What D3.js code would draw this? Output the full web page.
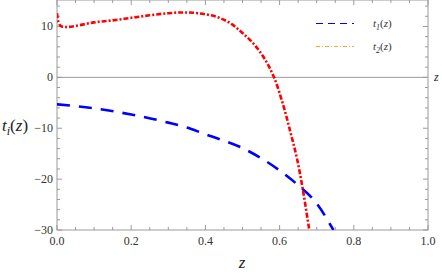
<!DOCTYPE html>
<html>
<head>
<meta charset="utf-8">
<script src="https://cdn.jsdelivr.net/npm/d3@7"></script>
<style>
  body { margin: 0; background: #fff; }
</style>
</head>
<body>
<div id="chart"></div>
<script>
// values
var t1Z = [0, 0.1, 0.2, 0.3, 0.36, 0.4, 0.5, 0.6, 0.65, 0.7, 0.745];
var t1V = [-5.3, -6.1, -7.3, -8.9, -10.1, -11.2, -13.9, -18.3, -21.2, -24.8, -30];

var t2Z = [0, 0.004, 0.01, 0.02, 0.03, 0.05, 0.1, 0.15, 0.2, 0.25, 0.3, 0.34, 0.38, 0.43, 0.47, 0.5, 0.53, 0.56, 0.585, 0.61, 0.63, 0.647, 0.663, 0.68];
var t2V = [12.6, 10.8, 10.1, 9.9, 9.9, 10.1, 10.8, 11.2, 11.7, 12.2, 12.6, 12.75, 12.6, 11.9, 10.5, 8.7, 6.6, 3.6, 0, -5.5, -11, -16, -22.2, -30];

var xMajor = [0, 0.2, 0.4, 0.6, 0.8, 1.0];
var yMajor = [-30, -20, -10, 0, 10];
var legendNames = ['1', '2'];

var W = 442, H = 273;
var FONT = '"Liberation Serif", "DejaVu Serif", "Times New Roman", Times, serif';

var svg = d3.select('#chart').append('svg')
    .attr('width', W)
    .attr('height', H)
    .attr('font-family', FONT);

var x = d3.scaleLinear().domain([0, 1]).range([57, 428]);
var y = d3.scaleLinear().domain([-30, 15.2]).range([230, 0]);

var frameColor = '#9a9a9a';

svg.append('clipPath').attr('id', 'clip')
  .append('rect')
  .attr('x', x(0)).attr('y', y(15.2))
  .attr('width', x(1) - x(0)).attr('height', y(-30) - y(15.2));

// zero axis
svg.append('line')
  .attr('x1', x(0)).attr('x2', x(1))
  .attr('y1', y(0)).attr('y2', y(0))
  .attr('stroke', frameColor).attr('stroke-width', 1);

// frame
svg.append('rect')
  .attr('x', x(0)).attr('y', y(15.2))
  .attr('width', x(1) - x(0)).attr('height', y(-30) - y(15.2))
  .attr('fill', 'none').attr('stroke', frameColor).attr('stroke-width', 1);

// ticks (inward, all four sides)
var xMinor = d3.range(0, 1.0001, 0.05);
var yMinor = d3.range(-30, 15.1, 2);

function isMajorX(v) { return Math.abs(v * 5 - Math.round(v * 5)) < 1e-6; }
function isMajorY(v) { return Math.abs(v / 10 - Math.round(v / 10)) < 1e-6; }

xMinor.forEach(function(v) {
    var len = isMajorX(v) ? 5 : 3;
    svg.append('line')
        .attr('x1', x(v)).attr('x2', x(v))
        .attr('y1', y(-30)).attr('y2', y(-30) - len)
        .attr('stroke', frameColor);
    svg.append('line')
        .attr('x1', x(v)).attr('x2', x(v))
        .attr('y1', y(15.2)).attr('y2', y(15.2) + len)
        .attr('stroke', frameColor);
});
yMinor.forEach(function(v) {
    var len = isMajorY(v) ? 5 : 3;
    svg.append('line')
        .attr('x1', x(0)).attr('x2', x(0) + len)
        .attr('y1', y(v)).attr('y2', y(v))
        .attr('stroke', frameColor);
    svg.append('line')
        .attr('x1', x(1)).attr('x2', x(1) - len)
        .attr('y1', y(v)).attr('y2', y(v))
        .attr('stroke', frameColor);
});

// tick labels
svg.selectAll('.xl').data(xMajor).enter().append('text')
    .attr('x', function(d) { return x(d); })
    .attr('y', y(-30) + 15)
    .attr('text-anchor', 'middle')
    .attr('font-size', 12)
    .attr('fill', '#333')
    .text(function(d) { return d.toFixed(1); });

svg.selectAll('.yl').data(yMajor).enter().append('text')
    .attr('x', x(0) - 4)
    .attr('y', function(d) { return y(d) + 4; })
    .attr('text-anchor', 'end')
    .attr('font-size', 12)
    .attr('fill', '#333')
    .text(function(d) { return d < 0 ? '\u2212' + (-d) : d; });

// axis labels
var yl = svg.append('text')
    .attr('x', 2).attr('y', 131)
    .attr('font-size', 17)
    .attr('font-style', 'italic')
    .attr('fill', '#222');
yl.append('tspan').text('t');
yl.append('tspan').attr('font-size', 12).attr('dy', 4).text('i');
yl.append('tspan').attr('dy', -4).attr('font-style', 'normal').text('(');
yl.append('tspan').text('z');
yl.append('tspan').attr('font-style', 'normal').text(')');

svg.append('text')
    .attr('x', 242).attr('y', 268)
    .attr('text-anchor', 'middle')
    .attr('font-size', 17)
    .attr('font-style', 'italic')
    .attr('fill', '#222')
    .text('z');

svg.append('text')
    .attr('x', 434).attr('y', 81)
    .attr('font-size', 12)
    .attr('font-style', 'italic')
    .attr('fill', '#222')
    .text('z');

// curves
var g = svg.append('g').attr('clip-path', 'url(#clip)');

g.append('path')
    .datum(d3.zip(t1Z, t1V))
    .attr('d', d3.line()
        .x(function(d) { return x(d[0]); })
        .y(function(d) { return y(d[1]); })
        .curve(d3.curveMonotoneX))
    .attr('fill', 'none')
    .attr('stroke', '#0000ff')
    .attr('stroke-width', 2.6)
    .attr('stroke-dasharray', '13,9');

g.append('path')
    .datum(d3.zip(t2Z, t2V))
    .attr('d', d3.line()
        .x(function(d) { return x(d[0]); })
        .y(function(d) { return y(d[1]); })
        .curve(d3.curveCatmullRom.alpha(0.5)))
    .attr('fill', 'none')
    .attr('stroke', '#ff0000')
    .attr('stroke-width', 2.6)
    .attr('stroke-dasharray', '5,2,2,2');

// legend
var legColors = ['#0000ff', '#ffa030'];
var legDash = ['7,5', '4,2,1,2'];
legendNames.forEach(function(n, i) {
    var ly = 23.5 + i * 23;
    svg.append('line')
        .attr('x1', 316).attr('x2', 354)
        .attr('y1', ly).attr('y2', ly)
        .attr('stroke', legColors[i])
        .attr('stroke-width', 1)
        .attr('stroke-dasharray', legDash[i]);
    var t = svg.append('text')
        .attr('x', 373).attr('y', ly + 3.5)
        .attr('font-size', 11)
        .attr('font-style', 'italic')
        .attr('fill', '#333');
    t.append('tspan').text('t');
    t.append('tspan').attr('font-size', 8).attr('dy', 3).text(n);
    t.append('tspan').attr('dy', -3).attr('font-style', 'normal').text('(');
    t.append('tspan').text('z');
    t.append('tspan').attr('font-style', 'normal').text(')');
});
</script>
</body>
</html>
